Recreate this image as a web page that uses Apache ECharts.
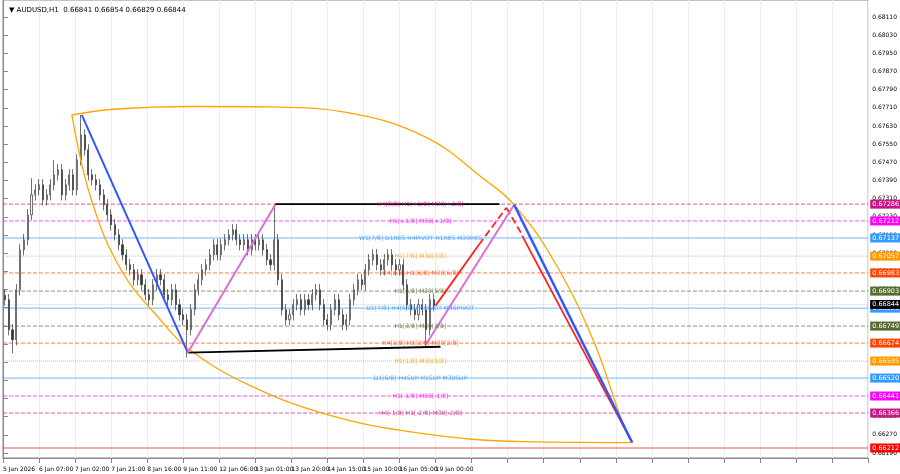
<!DOCTYPE html><html><head><meta charset="utf-8"><script src="https://cdn.jsdelivr.net/npm/echarts@6/dist/echarts.min.js"></script>
<style>html,body{margin:0;background:#fff}#c{width:900px;height:474px}</style></head><body><div id="c"></div><script>
const closes=[0.66865,0.66733,0.66689,0.66909,0.67085,0.67129,0.67239,0.67327,0.67349,0.67371,0.67305,0.67327,0.67371,0.67415,0.67437,0.67327,0.67371,0.67415,0.67349,0.67481,0.67591,0.67525,0.67415,0.67393,0.67371,0.67327,0.67283,0.67239,0.67195,0.67151,0.67107,0.67063,0.67019,0.66997,0.66953,0.66975,0.66931,0.66887,0.66865,0.66931,0.66975,0.66953,0.66887,0.66865,0.66909,0.66843,0.66799,0.66777,0.66733,0.66821,0.66909,0.66953,0.66997,0.67019,0.67063,0.67107,0.67063,0.67107,0.67129,0.67151,0.67173,0.67129,0.67107,0.67129,0.67085,0.67129,0.67107,0.67129,0.67085,0.67041,0.67019,0.67129,0.66953,0.66821,0.66777,0.66799,0.66843,0.66865,0.66821,0.66865,0.66843,0.66887,0.66909,0.66843,0.66777,0.66755,0.66821,0.66865,0.66799,0.66755,0.66777,0.66865,0.66909,0.66953,0.66931,0.66997,0.67041,0.67063,0.67019,0.66997,0.67041,0.67063,0.67019,0.66997,0.67019,0.66931,0.66843,0.66821,0.66799,0.66843,0.66821,0.66733,0.66865,0.66839];
const highOverride={20:0.67679,71:0.67280,7:0.67400,13:0.67480};
const lowOverride={2:0.66630,48:0.66610,111:0.66660};
const xTickLabels=['5 Jan 2026','6 Jan 07:00','7 Jan 02:00','7 Jan 21:00','8 Jan 16:00','9 Jan 11:00','12 Jan 06:00','13 Jan 01:00','13 Jan 20:00','14 Jan 15:00','15 Jan 10:00','16 Jan 05:00','19 Jan 00:00'];
const yTicks=[];for(let k=0;k<=24;k++)yTicks.push(+(0.66190+0.0008*k).toFixed(5));
const levels=[
 {p:0.67286,c:'#c71585',t:'H4[8/8] H1[+2/8] M30[+2/8]',s:'dashed'},
 {p:0.67212,c:'#ff00ff',t:'H1[+1/8] M30[+1/8]',s:'dashed'},
 {p:0.67137,c:'#3399ff',t:'W1[7/8] D1RES H4PIVOT H1RES M30RES',s:'solid'},
 {p:0.67057,c:'#ff9900',t:'H1[7/8] M30[7/8]',s:'dotted'},
 {p:0.66983,c:'#ff4500',t:'H4[6/8] H1[6/8] M30[6/8]',s:'dashed'},
 {p:0.66903,c:'#556b2f',t:'H1[5/8] M30[5/8]',s:'dashed'},
 {p:0.66828,c:'#3399ff',t:'D1[7/8] H4[5/8] H1PIVOT M30PIVOT',s:'solid'},
 {p:0.66749,c:'#556b2f',t:'H1[3/8] M30[3/8]',s:'dashed'},
 {p:0.66674,c:'#ff4500',t:'H4[1/8] H1[2/8] M30[2/8]',s:'dashed'},
 {p:0.66595,c:'#ff9900',t:'H1[1/8] M30[1/8]',s:'dotted'},
 {p:0.66520,c:'#3399ff',t:'D1[6/8] H4SUP H1SUP M30SUP',s:'solid'},
 {p:0.66441,c:'#ff00ff',t:'H1[-1/8] M30[-1/8]',s:'dashed'},
 {p:0.66366,c:'#c71585',t:'H4[-1/8] H1[-2/8] M30[-2/8]',s:'dashed'},
 {p:0.66212,c:'#ff0000',t:'',s:'solid'}];
const lastPrice=0.66844;
const blueDown=[[41.5,0.67679],[97.4,0.66632]];
const blackTop=[[143.5,0.67286],[261.7,0.67286]];
const blackBottom=[[97.4,0.66632],[230.6,0.66658]];
const pink1=[[97.4,0.66632],[143.5,0.67283]];
const pink2=[[222.8,0.66667],[269.4,0.67283]];
const redUp=[[228,0.66839],[250.8,0.67107]];
const redUpDash=[[250.8,0.67107],[265.3,0.67270]];
const redDownDash=[[265.3,0.67270],[273.6,0.67151]];
const redDown=[[273.6,0.67147],[331.6,0.66236]];
const blueDown2=[[269.4,0.67283],[331.6,0.66236]];
const arcTop=[[36.3,0.67679],[60,0.67705],[100,0.67716],[140,0.67714],[181,0.67690],[223,0.67580],[254,0.67393],[269.4,0.67283],[290,0.67041],[311,0.66689],[326,0.66337],[331.6,0.66236]];
const arcBottom=[[36.3,0.67679],[46.6,0.67305],[62.2,0.66997],[82.9,0.66777],[98.4,0.66645],[129.5,0.66490],[171,0.66359],[217.6,0.66280],[274.6,0.66240],[331.6,0.66236]];

const cats=[];for(let i=0;i<228;i++)cats.push(i);
const candles=closes.map((c,i)=>{const o=i?closes[i-1]:c+0.0002;let h=Math.max(o,c)+0.00025,l=Math.min(o,c)-0.00025;if(highOverride[i])h=highOverride[i];if(lowOverride[i])l=lowOverride[i];return [o,c,l,h];});
const ln=(d,color,w,type,smooth)=>({type:'line',xAxisIndex:1,data:d,symbol:'none',smooth:smooth||false,lineStyle:{color,width:w,type:type||'solid'},z:5,silent:true,animation:false});
const arrow=(d,color,w,type)=>({type:'line',xAxisIndex:1,data:[],silent:true,animation:false,z:6,
 markLine:{silent:true,animation:false,symbol:['none','arrow'],symbolSize:[0,8],label:{show:false},lineStyle:{color,width:w,type},
  data:[[{coord:d[0]},{coord:d[1]}]]}});
const levelLine=(p,c,s,op,w,box)=>({type:'line',xAxisIndex:1,data:[[0,p],[456,p]],symbol:'none',silent:true,animation:false,z:2,
 lineStyle:{color:c,type:s,width:w,opacity:op},
 endLabel:{show:true,formatter:p.toFixed(5),color:'#fff',backgroundColor:box,fontSize:6.5,padding:[1,2],distance:2,fontFamily:'DejaVu Sans'}});
const series=[{type:'candlestick',data:candles,barWidth:1.6,itemStyle:{color:'#fff',color0:'#333',borderColor:'#333',borderColor0:'#333',borderWidth:0.7},z:3,animation:false},
 ...levels.map(L=>levelLine(L.p,L.c,L.s,0.7,1,L.c)),
 levelLine(lastPrice,'#bbb','solid',0.6,0.5,'#000'),
 {type:'scatter',xAxisIndex:1,symbolSize:0,silent:true,animation:false,z:6,data:levels.filter(L=>L.t).map(L=>({value:[220,L.p],label:{show:true,formatter:L.t,color:L.c,fontSize:6,position:'inside',fontFamily:'DejaVu Sans'}}))},
 ln(arcTop,'#ffa500',1.3,'solid',0.4),ln(arcBottom,'#ffa500',1.3,'solid',0.4),
 ln(blueDown,'#3355ff',2),ln(blackTop,'#000',1.8),ln(blackBottom,'#000',1.8),ln(pink1,'#da70d6',2),ln(pink2,'#da70d6',2),
 ln(blueDown2,'#3355ff',2.5),
 arrow(redDown,'#ff2020',1.8,'solid'),arrow(redUp,'#ff2020',1.8,'solid'),arrow(redUpDash,'#ff2020',1.8,'dashed'),arrow(redDownDash,'#ff2020',1.8,'dashed')];
const chart=echarts.init(document.getElementById('c'));
chart.setOption({animation:false,backgroundColor:'#fff',
 title:{text:'▼ AUDUSD,H1  0.66841 0.66854 0.66829 0.66844',left:4,top:2,textStyle:{fontSize:7,fontWeight:'normal',color:'#000',fontFamily:'DejaVu Sans'}},
 grid:{left:0,right:20,top:0,bottom:16,containLabel:false,show:true,borderColor:'#888',borderWidth:1},
 xAxis:[{type:'category',data:cats,show:false,boundaryGap:true},
  {type:'value',min:0,max:456,interval:19,position:'bottom',axisLine:{lineStyle:{color:'#888'}},axisTick:{show:true,lineStyle:{color:'#888'}},
   splitLine:{show:true,lineStyle:{color:'#eee'}},axisLabel:{fontSize:6,color:'#000',align:'left',formatter:v=>xTickLabels[Math.round(v/19)]||'',fontFamily:'DejaVu Sans'}}],
 yAxis:{type:'value',position:'right',min:0.66168,max:0.68185,axisLine:{show:true,lineStyle:{color:'#888'}},
  axisTick:{customValues:yTicks,lineStyle:{color:'#888'}},splitLine:{show:false},
  axisLabel:{customValues:yTicks,fontSize:6,color:'#000',formatter:v=>v.toFixed(5),margin:4,fontFamily:'DejaVu Sans'}},
 series});
</script></body></html>
